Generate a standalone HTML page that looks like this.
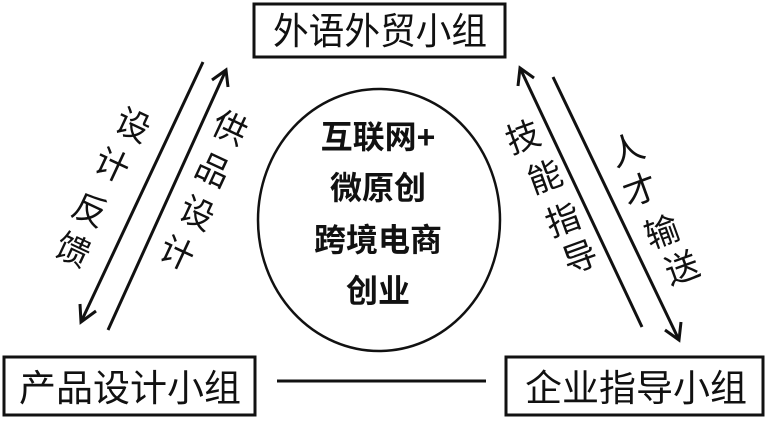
<!DOCTYPE html>
<html><head><meta charset="utf-8"><style>
body{margin:0;background:#fff;width:768px;height:419px;overflow:hidden}
svg text{font-family:"Liberation Sans","Noto Sans CJK SC",sans-serif;fill:#111}
</style></head><body>
<svg width="768" height="419" viewBox="0 0 768 419" xmlns="http://www.w3.org/2000/svg">
<g fill="none" stroke="#111" stroke-width="3">
<rect x="254" y="4" width="251" height="53"/>
<rect x="4" y="357" width="251" height="58"/>
<rect x="506" y="357" width="257" height="58"/>
<line x1="277" y1="381" x2="486" y2="381"/>
<ellipse cx="379" cy="220" rx="121" ry="131" stroke-width="2.5"/>
<line x1="203" y1="62" x2="81" y2="322"/>
<polyline points="80,304 81,322 96,311"/>
<line x1="108" y1="330" x2="226" y2="70"/>
<polyline points="212,80 226,70 228,87"/>
<line x1="642" y1="327" x2="520" y2="68"/>
<polyline points="518,86 520,68 534,78"/>
<line x1="553" y1="77" x2="679" y2="340"/>
<polyline points="665,330 679,340 681,322"/>
</g>
<g font-size="37" text-anchor="middle">
<text x="380" y="44" textLength="214" lengthAdjust="spacingAndGlyphs">外语外贸小组</text>
<text x="130" y="401" textLength="222" lengthAdjust="spacingAndGlyphs">产品设计小组</text>
<text x="636" y="401" textLength="222" lengthAdjust="spacingAndGlyphs">企业指导小组</text>
</g>
<g font-size="32" text-anchor="middle" font-weight="bold">
<text x="378" y="148">互联网+</text>
<text x="378" y="199">微原创</text>
<text x="378" y="251">跨境电商</text>
<text x="378" y="302">创业</text>
</g>
<g font-size="34" text-anchor="middle">
<text x="133" y="137" transform="rotate(25 133 125)">设</text>
<text x="112" y="177" transform="rotate(25 112 165)">计</text>
<text x="90" y="222" transform="rotate(25 90 210)">反</text>
<text x="73" y="262" transform="rotate(25 73 250)">馈</text>
<text x="230" y="140" transform="rotate(25 230 128)">供</text>
<text x="213" y="182" transform="rotate(25 213 170)">品</text>
<text x="197" y="225" transform="rotate(25 197 213)">设</text>
<text x="177" y="265" transform="rotate(25 177 253)">计</text>
<text x="523" y="149" transform="rotate(-20 523 137)">技</text>
<text x="545" y="189" transform="rotate(-20 545 177)">能</text>
<text x="563" y="232" transform="rotate(-20 563 220)">指</text>
<text x="580" y="269" transform="rotate(-20 580 257)">导</text>
<text x="627" y="162" transform="rotate(-20 627 150)">人</text>
<text x="640" y="202" transform="rotate(-20 640 190)">才</text>
<text x="662" y="244" transform="rotate(-20 662 232)">输</text>
<text x="682" y="280" transform="rotate(-20 682 268)">送</text>
</g>
</svg>
</body></html>
